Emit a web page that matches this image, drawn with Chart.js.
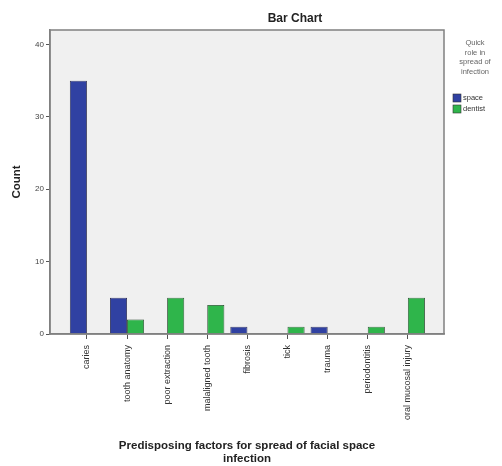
<!DOCTYPE html>
<html>
<head>
<meta charset="utf-8">
<script src="https://cdn.jsdelivr.net/npm/chart.js@4.4.0/dist/chart.umd.min.js"></script>
<style>
    body { margin: 0; background: #fff; }
    #wrap { width: 502px; height: 466px; }
</style>
</head>
<body>
<div id="wrap"><canvas id="graficoFactores" width="502" height="466"></canvas></div>
<script>
const factores = ['caries', 'tooth anatomy', 'poor extraction', 'malaligned tooth', 'fibrosis',
    'tick', 'trauma', 'periodontitis', 'oral mucosal injury'];
const cuentaSpace = [35, 5, null, null, 1, null, 1, null, null];
const cuentaDentist = [null, 2, 5, 4, null, 1, null, 1, 5];
const ticksY = [0, 10, 20, 30, 40];
const tituloLeyenda = ['Quick', 'role in', 'spread of', 'infection'];
const series = ['space', 'dentist'];

const colorSpace = '#3041a2';
const colorDentist = '#2fb54b';

// convierto los arrays a puntos {x, y} para el eje lineal
const aPuntos = arr => arr.map((v, i) => ({ x: i, y: v }));

// fondo gris y marco del area de grafico
const marcoPlugin = {
    id: 'marco',
    beforeDraw(chart) {
        const { ctx, chartArea: a } = chart;
        ctx.save();
        ctx.fillStyle = '#f0f0f0';
        ctx.fillRect(a.left, a.top, a.right - a.left, a.bottom - a.top);
        ctx.restore();
    },
    afterDraw(chart) {
        const { ctx, chartArea: a } = chart;
        ctx.save();
        ctx.strokeStyle = '#808080';
        ctx.lineWidth = 1.5;
        ctx.strokeRect(a.left, a.top, a.right - a.left, a.bottom - a.top);

        // titulo
        ctx.fillStyle = '#222';
        ctx.font = 'bold 12px "Liberation Sans", Arial, sans-serif';
        ctx.textAlign = 'center';
        ctx.textBaseline = 'middle';
        ctx.fillText('Bar Chart', 295, 19);

        // leyenda manual
        ctx.fillStyle = '#666';
        ctx.font = '7.5px "Liberation Sans", Arial, sans-serif';
        tituloLeyenda.forEach((t, i) => ctx.fillText(t, 475, 43 + i * 9.7));
        const colores = [colorSpace, colorDentist];
        ctx.textAlign = 'left';
        series.forEach((s, i) => {
            const y = 98 + i * 11;
            ctx.fillStyle = colores[i];
            ctx.fillRect(453, y - 4, 8, 8);
            ctx.strokeStyle = '#333';
            ctx.lineWidth = 0.6;
            ctx.strokeRect(453, y - 4, 8, 8);
            ctx.fillStyle = '#333';
            ctx.fillText(s, 463, y);
        });
        ctx.restore();
    }
};

new Chart(document.getElementById('graficoFactores'), {
    type: 'bar',
    data: {
        datasets: [{
            label: series[0],
            data: aPuntos(cuentaSpace),
            backgroundColor: colorSpace,
            borderColor: '#1c1c3a',
            borderWidth: 0.8
        }, {
            label: series[1],
            data: aPuntos(cuentaDentist),
            backgroundColor: colorDentist,
            borderColor: '#1d3a22',
            borderWidth: 0.8
        }]
    },
    options: {
        responsive: false,
        animation: false,
        barPercentage: 1,
        categoryPercentage: 0.85,
        layout: { padding: { top: 30, right: 58, left: 0, bottom: 0 } },
        plugins: {
            legend: { display: false },
            tooltip: { enabled: false }
        },
        scales: {
            x: {
                type: 'linear',
                offset: false,
                min: -0.92,
                max: 8.9,
                afterBuildTicks: axis => {
                    axis.ticks = factores.map((_, i) => ({ value: i }));
                },
                afterFit: axis => { axis.height = 132; },
                ticks: {
                    autoSkip: false,
                    minRotation: 90,
                    maxRotation: 90,
                    padding: 6,
                    color: '#333',
                    font: { size: 9, family: '"Liberation Sans", Arial, sans-serif' },
                    callback: value => factores[value]
                },
                grid: { offset: false, drawOnChartArea: false, drawTicks: true, tickLength: 5, color: '#555' },
                border: { display: true, color: '#808080', width: 1.5 },
                title: {
                    display: true,
                    text: ['Predisposing factors for spread of facial space', 'infection'],
                    color: '#222',
                    font: { size: 11.5, weight: 'bold', family: '"Liberation Sans", Arial, sans-serif', lineHeight: 1.1 },
                    padding: { top: 0, bottom: 1 }
                }
            },
            y: {
                min: 0,
                max: 42,
                afterBuildTicks: axis => {
                    axis.ticks = ticksY.map(v => ({ value: v }));
                },
                afterFit: axis => { axis.width = 50; },
                ticks: {
                    color: '#444',
                    padding: 2,
                    font: { size: 8, family: '"Liberation Sans", Arial, sans-serif' }
                },
                grid: { drawOnChartArea: false, drawTicks: true, tickLength: 4, color: '#555' },
                border: { display: true, color: '#808080', width: 1.5 },
                title: {
                    display: true,
                    text: 'Count',
                    color: '#222',
                    font: { size: 11.5, weight: 'bold', family: '"Liberation Sans", Arial, sans-serif' },
                    padding: { top: 10, bottom: 0 }
                }
            }
        }
    },
    plugins: [marcoPlugin]
});
</script>
</body>
</html>
